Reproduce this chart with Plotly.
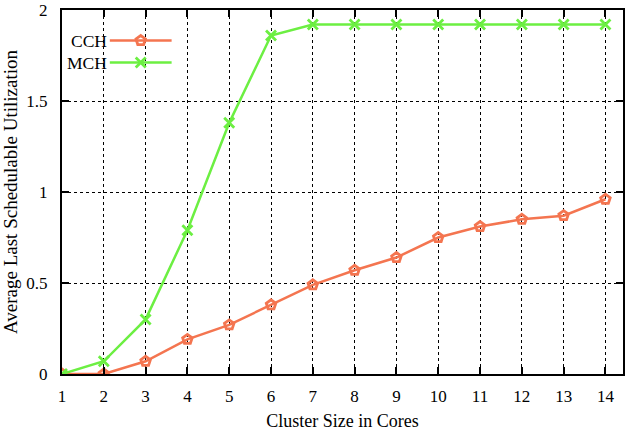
import plotly.graph_objects as go

cores = [1, 2, 3, 4, 5, 6, 7, 8, 9, 10, 11, 12, 13, 14]
cch = [0.0, 0.0, 0.07, 0.19, 0.27, 0.38, 0.49, 0.57, 0.64, 0.75, 0.81, 0.85, 0.87, 0.96]
mch = [0.0, 0.07, 0.30, 0.79, 1.38, 1.86, 1.92, 1.92, 1.92, 1.92, 1.92, 1.92, 1.92, 1.92]
series_names = ["CCH", "MCH"]
y_ticks = [0, 0.5, 1, 1.5, 2]
y_tick_text = ["0", "0.5", "1", "1.5", "2"]

C_CCH = "#f47550"
C_MCH = "#6cef42"
FONT = "Liberation Serif"

fig = go.Figure()
fig.add_trace(go.Scatter(
    x=cores, y=cch, mode="lines+markers", name=series_names[0], showlegend=False,
    line=dict(color=C_CCH, width=2.5),
    marker=dict(symbol="pentagon-open", size=10, color=C_CCH, line=dict(width=2.8, color=C_CCH)),
))
fig.add_trace(go.Scatter(
    x=cores, y=mch, mode="lines+markers", name=series_names[1], showlegend=False,
    line=dict(color=C_MCH, width=2.5),
    marker=dict(symbol="x-thin", size=10, color=C_MCH, line=dict(width=2.8, color=C_MCH)),
))

# custom legend (text left of sample) on a pixel-space overlay axis
leg_y = [40.5, 62.5]
leg_x0, leg_x1 = 110, 172
for name, col, sym, ly in [(series_names[0], C_CCH, "pentagon-open", leg_y[0]),
                           (series_names[1], C_MCH, "x-thin", leg_y[1])]:
    fig.add_trace(go.Scatter(
        x=[leg_x0, leg_x1], y=[ly, ly], xaxis="x2", yaxis="y2", mode="lines",
        line=dict(color=col, width=2.5), showlegend=False, hoverinfo="skip"))
    fig.add_trace(go.Scatter(
        x=[(leg_x0 + leg_x1) / 2], y=[ly], xaxis="x2", yaxis="y2", mode="markers",
        marker=dict(symbol=sym, size=10, color=col, line=dict(width=2.8, color=col)),
        showlegend=False, hoverinfo="skip"))
    fig.add_annotation(x=leg_x0 - 1, y=ly, xref="x2", yref="y2", text=name, showarrow=False,
                       xanchor="right", yanchor="middle",
                       font=dict(family=FONT, size=17.5, color="black"))

fig.add_shape(type="rect", xref="x2", yref="y2", x0=65, x1=178, y0=18, y1=84,
              fillcolor="white", line=dict(width=0), layer="below")

fig.update_layout(
    width=625, height=434,
    margin=dict(l=62, r=0, t=10, b=60),
    paper_bgcolor="white", plot_bgcolor="white",
    font=dict(family=FONT, size=17, color="black"),
    xaxis=dict(
        range=[1, 14.42], tickvals=cores, ticks="inside", ticklen=7, tickwidth=1.5, tickcolor="black",
        showline=True, linecolor="black", linewidth=2, mirror="allticks",
        showgrid=True, gridcolor="black", gridwidth=1, griddash="dot", zeroline=False,
        title=dict(text="Cluster Size in Cores", font=dict(family=FONT, size=18), standoff=9),
        tickfont=dict(family=FONT, size=17), ticklabelstandoff=6,
    ),
    yaxis=dict(
        range=[0, 2], tickvals=y_ticks, ticktext=y_tick_text, ticks="inside", ticklen=7, tickwidth=1.5,
        tickcolor="black", showline=True, linecolor="black", linewidth=2, mirror="allticks",
        showgrid=True, gridcolor="black", gridwidth=1, griddash="dot", zeroline=False,
        title=dict(text="Average Last Schedulable Utilization", font=dict(family=FONT, size=19), standoff=6),
        tickfont=dict(family=FONT, size=17), ticklabelstandoff=9,
    ),
    xaxis2=dict(overlaying="x", range=[62, 625], visible=False, fixedrange=True),
    yaxis2=dict(overlaying="y", range=[374, 10], visible=False, fixedrange=True),
    showlegend=False,
)

fig.write_html("out.html", config={"displayModeBar": False},
               post_script="document.body.style.margin='0px';")
